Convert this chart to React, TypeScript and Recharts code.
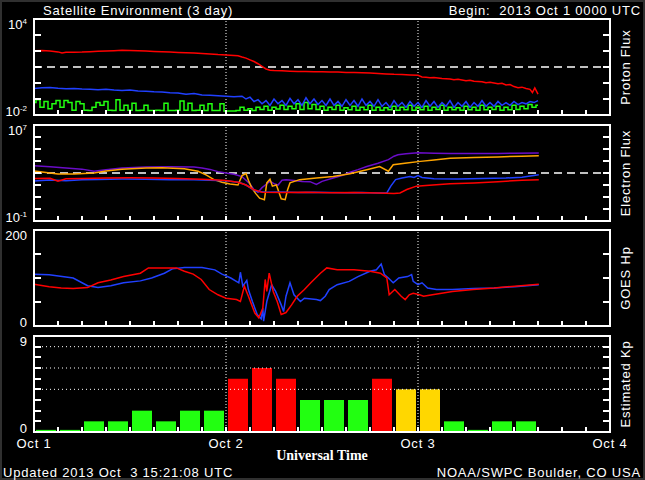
import React from 'react'
import { LineChart, Line, BarChart, Bar, Cell, XAxis, YAxis, ReferenceLine } from 'recharts'

// x axis = hours since 2013 Oct 1 00:00 UTC
const HOUR_TICKS = [0, 3, 6, 9, 12, 15, 18, 21, 24, 27, 30, 33, 36, 39, 42, 45, 48, 51, 54, 57, 60, 63, 66, 69, 72]
const DAY_LABELS = ['Oct 1', 'Oct 2', 'Oct 3', 'Oct 4']
const DAY_LINES = [24, 48]

const PROTON_TICKS = [0.01, 0.1, 1, 10, 100, 1000, 10000]
const ELECTRON_TICKS = [0.1, 1, 10, 100, 1000, 10000, 100000, 1000000, 10000000]
const HP_TICKS = [0, 50, 100, 150, 200]
const KP_TICKS = [0, 1, 2, 3, 4, 5, 6, 7, 8, 9]
const KP_GRID = [4, 6, 8]

// proton flux (pfu), [hour, value]
const PROTON_10MEV: [number, number][] = [
  [0, 105], [1, 108], [2, 100], [3, 88], [3.5, 76], [4, 84], [5, 85], [6, 86], [7, 90], [8, 95], [9, 100],
  [10, 104], [11, 110], [12, 107], [13, 104], [14, 100], [15, 94], [16, 90], [17, 86], [18, 82], [19, 78],
  [20, 74], [21, 70], [22, 66], [23, 60], [24, 57], [25, 53], [25.5, 50], [26, 42], [26.5, 36], [27, 28],
  [27.5, 22], [28, 16], [28.5, 11], [29, 7.5], [29.5, 6.2], [30, 6], [31, 5.8], [32, 5.5], [33, 5.3],
  [34, 5.2], [35, 5], [36, 5.1], [37, 4.9], [38, 4.8], [39, 4.6], [40, 4.5], [41, 4.3], [42, 4.2], [43, 3.9],
  [44, 3.7], [45, 3.5], [46, 3.4], [47, 3.2], [48, 3], [48.5, 2.4], [49, 2.3], [49.5, 2.1], [50, 2.2],
  [51, 1.9], [52, 1.8], [52.5, 1.6], [53, 1.7], [54, 1.4], [54.5, 1.5], [55, 1.3], [56, 1.2], [56.5, 1.05],
  [57, 1.1], [58, 0.9], [58.5, 0.95], [59, 0.75], [59.5, 0.8], [60, 0.6], [60.5, 0.5], [61, 0.55],
  [61.5, 0.45], [62, 0.4], [62.3, 0.25], [62.6, 0.5], [63, 0.2],
]
const PROTON_50MEV: [number, number][] = [
  [0, 0.45], [1, 0.5], [2, 0.52], [3, 0.47], [4, 0.44], [5, 0.46], [6, 0.42], [7, 0.4], [8, 0.38], [9, 0.4],
  [10, 0.36], [11, 0.34], [12, 0.36], [13, 0.32], [14, 0.3], [15, 0.28], [16, 0.27], [17, 0.25], [18, 0.24],
  [19, 0.2], [20, 0.22], [21, 0.18], [22, 0.17], [23, 0.16], [24, 0.15], [25, 0.14], [26, 0.15], [26.5, 0.1],
  [27, 0.13], [27.5, 0.07], [28, 0.09], [28.5, 0.05], [29, 0.08], [29.5, 0.04], [30, 0.1], [30.5, 0.05],
  [31, 0.08], [31.5, 0.04], [32, 0.11], [32.5, 0.05], [33, 0.09], [33.5, 0.04], [34, 0.12], [34.5, 0.05],
  [35, 0.1], [35.5, 0.045], [36, 0.08], [36.5, 0.04], [37, 0.1], [37.5, 0.04], [38, 0.07], [38.5, 0.035],
  [39, 0.09], [39.5, 0.04], [40, 0.08], [40.5, 0.035], [41, 0.1], [41.5, 0.04], [42, 0.07], [42.5, 0.035],
  [43, 0.09], [43.5, 0.035], [44, 0.06], [44.5, 0.03], [45, 0.08], [45.5, 0.035], [46, 0.06], [46.5, 0.03],
  [47, 0.07], [47.5, 0.035], [48, 0.06], [48.5, 0.03], [49, 0.08], [49.5, 0.035], [50, 0.07], [50.5, 0.03],
  [51, 0.06], [51.5, 0.035], [52, 0.08], [52.5, 0.03], [53, 0.06], [53.5, 0.035], [54, 0.07], [54.5, 0.03],
  [55, 0.06], [55.5, 0.035], [56, 0.08], [56.5, 0.035], [57, 0.06], [57.5, 0.035], [58, 0.07], [58.5, 0.04],
  [59, 0.06], [59.5, 0.04], [60, 0.07], [60.5, 0.045], [61, 0.06], [61.5, 0.05], [62, 0.07], [62.5, 0.06],
  [63, 0.08],
]
const PROTON_100MEV: [number, number][] = [
  [0, 0.06], [0.5, 0.09], [1, 0.03], [1.5, 0.07], [2, 0.025], [2.5, 0.05], [3, 0.08], [3.5, 0.03], [4, 0.08],
  [4.5, 0.06], [5, 0.02], [5.5, 0.07], [6, 0.05], [6.5, 0.02], [7, 0.019], [7.5, 0.03], [8, 0.06], [8.5, 0.04],
  [9, 0.07], [9.5, 0.02], [10, 0.019], [10.5, 0.09], [11, 0.02], [11.5, 0.04], [12, 0.02], [12.5, 0.055],
  [13, 0.019], [13.5, 0.02], [14, 0.04], [14.5, 0.019], [15, 0.019], [15.5, 0.02], [16, 0.019], [16.5, 0.055],
  [17, 0.019], [17.5, 0.019], [18, 0.02], [18.5, 0.075], [19, 0.02], [19.5, 0.055], [20, 0.019], [20.5, 0.02],
  [21, 0.04], [21.5, 0.019], [22, 0.05], [22.5, 0.019], [23, 0.019], [23.5, 0.05], [24, 0.018], [24.5, 0.018],
  [25, 0.018], [25.5, 0.019], [26, 0.03], [26.5, 0.02], [27, 0.025], [27.5, 0.019], [28, 0.03], [28.5, 0.022],
  [29, 0.035], [29.5, 0.02], [30, 0.03], [30.5, 0.024], [31, 0.04], [31.5, 0.022], [32, 0.035], [32.5, 0.025],
  [33, 0.05], [33.5, 0.022], [34, 0.06], [34.5, 0.025], [35, 0.045], [35.5, 0.022], [36, 0.035], [36.5, 0.02],
  [37, 0.03], [37.5, 0.022], [38, 0.04], [38.5, 0.02], [39, 0.028], [39.5, 0.021], [40, 0.035], [40.5, 0.02],
  [41, 0.03], [41.5, 0.021], [42, 0.04], [42.5, 0.02], [43, 0.03], [43.5, 0.02], [44, 0.028], [44.5, 0.021],
  [45, 0.035], [45.5, 0.02], [46, 0.03], [46.5, 0.021], [47, 0.04], [47.5, 0.02], [48, 0.03], [48.5, 0.021],
  [49, 0.035], [49.5, 0.02], [50, 0.03], [50.5, 0.022], [51, 0.04], [51.5, 0.02], [52, 0.03], [52.5, 0.021],
  [53, 0.028], [53.5, 0.02], [54, 0.035], [54.5, 0.021], [55, 0.03], [55.5, 0.02], [56, 0.04], [56.5, 0.021],
  [57, 0.03], [57.5, 0.022], [58, 0.035], [58.5, 0.02], [59, 0.03], [59.5, 0.021], [60, 0.04], [60.5, 0.022],
  [61, 0.035], [61.5, 0.025], [62, 0.045], [62.5, 0.03], [63, 0.04],
]

// electron flux, [hour, value]
const ELECTRON_PURPLE: [number, number][] = [
  [0, 4000], [2, 3300], [4, 2600], [6, 2100], [7.5, 1400], [9, 1900], [11, 2600], [14, 3200], [17, 3300],
  [20, 3100], [21, 2600], [22, 2000], [23, 1300], [24, 1000], [25, 800], [26, 500], [26.5, 250], [27, 120],
  [27.5, 40], [28, 25], [28.5, 60], [29, 110], [29.5, 200], [30, 130], [30.5, 100], [31, 250], [31.5, 270],
  [32.5, 240], [33.5, 200], [34.5, 190], [35.3, 110], [36, 200], [37.4, 380], [38.5, 600], [39.5, 1150],
  [40.5, 1900], [41.6, 3500], [43, 6500], [44.3, 13000], [45, 25000], [45.5, 33000], [46.5, 40000],
  [48, 48000], [50, 45000], [52, 42000], [55, 42000], [58, 43000], [60, 45000], [63.1, 46000],
]
const ELECTRON_ORANGE: [number, number][] = [
  [0, 1500], [1.5, 1100], [3, 830], [5, 820], [7.5, 1000], [9, 1500], [11, 2100], [14, 2600], [16, 2700],
  [18.8, 2300], [20.5, 1400], [21.5, 700], [22.5, 280], [23.5, 170], [24.5, 120], [25.5, 100], [26, 600],
  [26.5, 900], [26.8, 250], [27.2, 60], [27.7, 20], [28.2, 8], [28.8, 6], [29.1, 150], [29.5, 300], [29.8, 80],
  [30.3, 100], [30.9, 7], [31.4, 6], [31.7, 40], [32, 150], [33.2, 280], [35.3, 390], [37.4, 520], [39.5, 870],
  [41.6, 1900], [43.2, 3500], [44.3, 1400], [44.9, 4900], [46.6, 6800], [48.3, 9300], [50, 12000],
  [52, 17000], [55, 20000], [58, 22000], [61, 25000], [63.1, 27000],
]
const ELECTRON_BLUE: [number, number][] = [
  [0, 220], [2, 260], [4, 230], [6, 270], [8, 290], [11, 310], [14, 300], [17, 280], [20, 270], [22, 250],
  [24, 230], [25.7, 160], [26.5, 100], [27.2, 50], [27.8, 30], [29, 25], [31, 26], [33, 24], [35, 25],
  [37, 24], [39, 23], [41, 24], [43, 22], [44.1, 22], [44.6, 80], [45.2, 280], [46, 390], [47, 520],
  [47.5, 430], [48, 600], [48.5, 420], [50, 330], [53, 320], [56, 340], [59, 380], [61, 440], [63.1, 720],
]
const ELECTRON_RED: [number, number][] = [
  [0, 340], [2, 360], [3, 210], [4, 330], [6, 350], [9, 390], [12, 400], [15, 380], [18, 340], [21, 300],
  [23, 260], [24, 240], [25.5, 170], [26.5, 100], [27.5, 40], [28.5, 25], [31, 24], [34, 25], [37, 23],
  [40, 24], [43, 22], [45, 20], [45.75, 22], [46.6, 42], [47.8, 80], [49, 90], [52, 125], [55, 150],
  [58, 190], [61, 250], [63.1, 280],
]

// GOES Hp (nT), [hour, value]
const HP_BLUE: [number, number][] = [
  [0, 108], [1.9, 107], [4.9, 100], [6.7, 84], [8, 80], [9.6, 84], [11.2, 90], [13.3, 94], [14.7, 100],
  [16.3, 110], [17.3, 119], [18.8, 122], [21, 122], [22.6, 117], [23.5, 108], [24.6, 100], [25.6, 90],
  [25.8, 112], [26.1, 83], [26.6, 95], [26.8, 76], [27.3, 51], [27.9, 24], [28.4, 15], [28.6, 37], [28.7, 10],
  [29.1, 51], [29.7, 86], [30.2, 72], [30.9, 44], [31.2, 30], [31.5, 62], [32, 90], [32.5, 65], [33.3, 51],
  [33.8, 58], [35.3, 55], [35.8, 53], [36.4, 62], [36.9, 76], [37.9, 86], [39.4, 93], [40.5, 103], [42, 114],
  [42.8, 117], [43.4, 129], [43.8, 107], [44.3, 100], [44.9, 90], [45.6, 100], [46.7, 103], [47.2, 107],
  [47.4, 93], [48, 86], [48.5, 90], [49.2, 79], [50.3, 76], [52.3, 76], [54.9, 78], [57.5, 79], [60.1, 82],
  [63.1, 86],
]
const HP_RED: [number, number][] = [
  [0, 87], [1.9, 82], [3.4, 79], [4.9, 78], [6.7, 80], [8, 90], [9.6, 96], [11.2, 103], [13.3, 110],
  [14.3, 121], [16.3, 121], [17.8, 121], [18.8, 114], [19.9, 108], [20.9, 97], [21.9, 76], [23, 65], [24, 58],
  [25.3, 55], [25.8, 51], [26.3, 83], [26.8, 62], [27.6, 27], [28.1, 17], [28.6, 37], [28.9, 97], [29.1, 72],
  [29.4, 110], [29.9, 72], [30.4, 51], [30.9, 24], [31.5, 28], [32.2, 44], [32.9, 62], [33.8, 76], [34.6, 90],
  [35.8, 110], [36.6, 121], [37.9, 117], [40, 117], [42, 114], [43.3, 110], [44.1, 100], [44.4, 65],
  [45.1, 76], [45.9, 62], [46.4, 55], [46.9, 65], [47.4, 68], [48.2, 65], [48.7, 62], [49.8, 65], [52.3, 72],
  [54.9, 76], [57.5, 79], [60.1, 83], [63.1, 87],
]

// estimated Kp, one value per 3-hour bin starting Oct 1 00 UT
const KP = [0.2, 0.2, 1, 1, 2, 1, 2, 2, 5, 6, 5, 3, 3, 3, 5, 4, 4, 1, 0.2, 1, 1]

const W = 645
const PL = 34
const PR = 610
const PH = 96
const PAD = 10
const PANEL_TOPS = [19, 125, 230, 336]
// frame divisions per panel (decades, decades, 50 nT steps, Kp units)
const PANEL_DIVS = [PROTON_TICKS.length - 1, ELECTRON_TICKS.length - 1, HP_TICKS.length - 1, KP_TICKS.length - 1]
const FONT = '"Liberation Sans", Arial, sans-serif'

const RED = '#ff0000'
const BLUE = '#2040ff'
const GREEN = '#22ff11'
const PURPLE = '#6a0cc8'
const ORANGE = '#ffa500'
const YELLOW = '#ffd700'

const pts = (a: [number, number][]) => a.map(([t, v]) => ({ t, v }))
const kpData = KP.map((kp, i) => ({ t: i * 3 + 1.5, kp }))
const kpColor = (k: number) => (k >= 5 ? RED : k >= 4 ? YELLOW : GREEN)

const logLabel = (v: number) => (
  <>
    <tspan>10</tspan>
    <tspan dy={-5} fontSize={8}>{Math.round(Math.log10(v))}</tspan>
  </>
)

// only the end values of each y axis get a label
function yLabel(lo: number, hi: number, fmt: (v: number) => React.ReactNode) {
  return (props: any) => {
    const { y, payload } = props
    const v = payload.value
    if (v !== lo && v !== hi) return <g />
    return (
      <text x={27} y={v === hi ? y + 10 : y + 1} textAnchor="end" fill="#fff" fontSize={13} fontFamily={FONT}>
        {fmt(v)}
      </text>
    )
  }
}

function xLabel(labels: boolean) {
  return (props: any) => {
    const { x, y, payload } = props
    const v = payload.value
    if (!labels || v % 24 !== 0) return <g />
    return (
      <text x={x} y={y + 16} textAnchor="middle" fill="#fff" fontSize={13} fontFamily={FONT} letterSpacing={0.8}>
        {DAY_LABELS[v / 24]}
      </text>
    )
  }
}

const dayLines = DAY_LINES.map((d) => (
  <ReferenceLine key={'d' + d} x={d} stroke="#fff" strokeDasharray="1 2" strokeWidth={1} />
))

// the y axis takes the left margin, the x axis takes the bottom pad
const margin = { top: PAD, right: W - PR, bottom: 0, left: 0 }

function axes(bottomH: number, labels: boolean, yProps: any, tick: any) {
  return [
    <XAxis key="x" type="number" dataKey="t" domain={[0, 72]} ticks={HOUR_TICKS} interval={0} height={bottomH} axisLine={false} tickLine={false} tickSize={0} tickMargin={0} tick={xLabel(labels)} allowDataOverflow />,
    <YAxis key="y" type="number" width={PL} interval={0} axisLine={false} tickLine={false} tickSize={0} tickMargin={0} tick={tick} allowDataOverflow {...yProps} />,
  ]
}

const lineProps = { dataKey: 'v', strokeWidth: 1.5, dot: false, isAnimationActive: false }

function ProtonPanel() {
  const y = { scale: 'log', domain: [0.01, 10000], ticks: PROTON_TICKS }
  return (
    <LineChart width={W} height={PH + 2 * PAD} margin={margin}>
      {axes(PAD, false, y, yLabel(0.01, 10000, logLabel))}
      {dayLines}
      <ReferenceLine y={10} stroke="#fff" strokeDasharray="8 5" strokeWidth={1.5} />
      <Line {...lineProps} data={pts(PROTON_100MEV)} type="step" stroke={GREEN} />
      <Line {...lineProps} data={pts(PROTON_50MEV)} stroke={BLUE} />
      <Line {...lineProps} data={pts(PROTON_10MEV)} stroke={RED} />
    </LineChart>
  )
}

function ElectronPanel() {
  const y = { scale: 'log', domain: [0.1, 10000000], ticks: ELECTRON_TICKS }
  return (
    <LineChart width={W} height={PH + 2 * PAD} margin={margin}>
      {axes(PAD, false, y, yLabel(0.1, 10000000, logLabel))}
      {dayLines}
      <ReferenceLine y={1000} stroke="#fff" strokeDasharray="8 5" strokeWidth={1.5} />
      <Line {...lineProps} data={pts(ELECTRON_PURPLE)} stroke={PURPLE} />
      <Line {...lineProps} data={pts(ELECTRON_ORANGE)} stroke={ORANGE} />
      <Line {...lineProps} data={pts(ELECTRON_BLUE)} stroke={BLUE} />
      <Line {...lineProps} data={pts(ELECTRON_RED)} stroke={RED} />
    </LineChart>
  )
}

function HpPanel() {
  const y = { domain: [0, 200], ticks: HP_TICKS }
  return (
    <LineChart width={W} height={PH + 2 * PAD} margin={margin}>
      {axes(PAD, false, y, yLabel(0, 200, (v) => String(v)))}
      {dayLines}
      <Line {...lineProps} data={pts(HP_BLUE)} stroke={BLUE} />
      <Line {...lineProps} data={pts(HP_RED)} stroke={RED} />
    </LineChart>
  )
}

function KpPanel() {
  const y = { domain: [0, 9], ticks: KP_TICKS }
  return (
    <BarChart width={W} height={PH + PAD + 24} margin={margin} data={kpData}>
      {axes(24, true, y, yLabel(0, 9, (v) => String(v)))}
      {KP_GRID.map((k) => (
        <ReferenceLine key={'g' + k} y={k} stroke="#fff" strokeDasharray="1 3" strokeWidth={1} />
      ))}
      {dayLines}
      <Bar dataKey="kp" barSize={20} isAnimationActive={false}>
        {kpData.map((d, i) => (
          <Cell key={i} fill={kpColor(d.kp)} />
        ))}
      </Bar>
    </BarChart>
  )
}

// frame with short inward ticks: one per axis division on both sides, one per 3 hours along the bottom
function Frame({ top, divs }: { top: number; divs: number }) {
  const ys = Array.from({ length: divs - 1 }, (_, k) => Math.round(top + (PH * (k + 1)) / divs))
  const xs = HOUR_TICKS.slice(1, -1).map((h) => PL + ((PR - PL) * h) / 72)
  return (
    <g stroke="#fff" fill="none" shapeRendering="crispEdges">
      <rect x={PL} y={top} width={PR - PL} height={PH} strokeWidth={2} />
      {ys.map((y, k) => (
        <g key={k} strokeWidth={2}>
          <line x1={PL} x2={PL + 7} y1={y} y2={y} />
          <line x1={PR - 7} x2={PR} y1={y} y2={y} />
        </g>
      ))}
      {xs.map((x, k) => (
        <line key={'x' + k} x1={x} x2={x} y1={top + PH - 5} y2={top + PH} strokeWidth={2} />
      ))}
    </g>
  )
}

const SIDE_LABELS = ['Proton Flux', 'Electron Flux', 'GOES Hp', 'Estimated Kp']

export default function App() {
  const txt = { fill: '#fff', fontSize: 13, fontFamily: FONT, letterSpacing: 0.8 }
  return (
    <div style={{ position: 'absolute', left: 0, top: 0, width: W, height: 480, background: '#000', boxShadow: 'inset 0 0 0 2px #303030', overflow: 'hidden' }}>
      {[ProtonPanel, ElectronPanel, HpPanel, KpPanel].map((P, i) => (
        <div key={i} style={{ position: 'absolute', left: 0, top: PANEL_TOPS[i] - PAD }}>
          <P />
        </div>
      ))}
      <svg width={W} height={480} style={{ position: 'absolute', left: 0, top: 0, pointerEvents: 'none' }}>
        {PANEL_TOPS.map((t, i) => (
          <g key={i}>
            <Frame top={t} divs={PANEL_DIVS[i]} />
            <text transform={`translate(630, ${t + PH / 2}) rotate(-90)`} textAnchor="middle" {...txt}>
              {SIDE_LABELS[i]}
            </text>
          </g>
        ))}
        <text x={43} y={15} {...txt}>Satellite Environment (3 day)</text>
        <text x={641} y={15} textAnchor="end" style={{ whiteSpace: 'pre' }} {...txt}>{'Begin:  2013 Oct 1 0000 UTC'}</text>
        <text x={322} y={460} textAnchor="middle" fill="#fff" fontSize={14} fontWeight="bold" fontFamily='"Liberation Serif", "Times New Roman", serif'>
          Universal Time
        </text>
        <text x={3} y={477} style={{ whiteSpace: 'pre' }} {...txt}>{'Updated 2013 Oct  3 15:21:08 UTC'}</text>
        <text x={641} y={477} textAnchor="end" {...txt}>NOAA/SWPC Boulder, CO USA</text>
      </svg>
    </div>
  )
}
